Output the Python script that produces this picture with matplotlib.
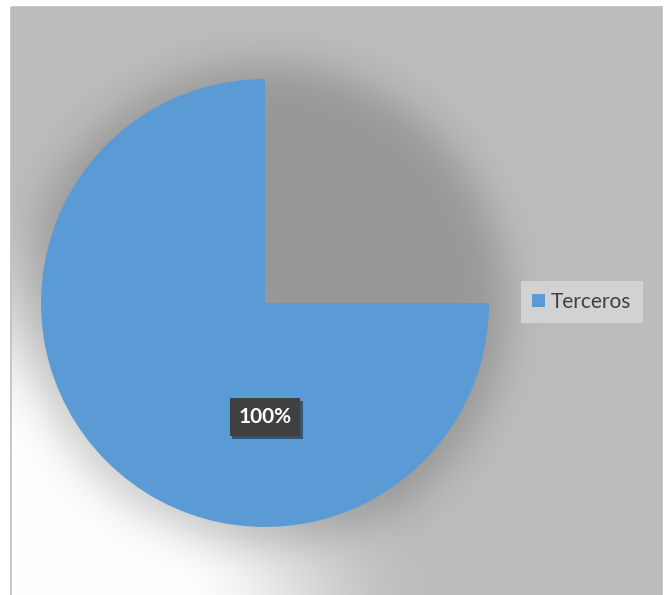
import numpy as np
import matplotlib.pyplot as plt
from matplotlib.patches import Rectangle
import matplotlib.patheffects as pe

# data
categories = ['', 'Terceros']
values = [1, 3]
slice_colors = ['none', '#5b9bd5']
data_label = '100%'
legend_label = 'Terceros'

W, H = 671, 595
fig = plt.figure(figsize=(W / 100, H / 100), dpi=100, facecolor='white')

# background: grey chart area with white radial glow from bottom-left and pie shadow
bg = fig.add_axes([0, 0, 1, 1])
bg.set_xlim(0, W)
bg.set_ylim(H, 0)
bg.axis('off')
yy, xx = np.mgrid[0:H, 0:W] + 0.5
d = np.hypot(xx - 10, yy - 600)
t = np.clip((d - 165) / (420 - 165), 0, 1)
t = t * t * (3 - 2 * t)
val = 255 + (189 - 255) * t
r = np.hypot(xx - 266, yy - 305)
shadow = 1 / (1 + np.exp((r - 240) / 13))
val = val * (1 - 0.2 * shadow)
img = np.stack([val, val, val], axis=-1) / 255.0
inside = (xx >= 11) & (xx <= 662) & (yy >= 7)
img[~inside] = 1.0
bg.imshow(img, extent=[0, W, H, 0], interpolation='bilinear', aspect='auto')
bg.add_patch(Rectangle((11, 7), 651, 600, fill=False, edgecolor='#bdbdbd', lw=1.2))

# pie
cx, cy, rad = 265, 303, 224
ax = fig.add_axes([(cx - rad) / W, (H - cy - rad) / H, 2 * rad / W, 2 * rad / H])
wedges, _ = ax.pie(values, colors=slice_colors, startangle=0, counterclock=True,
                   radius=1, wedgeprops=dict(linewidth=0))
ax.set_xlim(-1, 1)
ax.set_ylim(-1, 1)

ax.text(0, -0.51, data_label, ha='center', va='center', color='white',
        fontsize=15, fontweight='bold', family=['Lato', 'DejaVu Sans'],
        bbox=dict(boxstyle='square,pad=0.42', facecolor='#404040', edgecolor='none',
                  path_effects=[pe.withSimplePatchShadow(offset=(2, -2), alpha=0.5)]))

leg = fig.legend([wedges[1]], [legend_label], loc='center',
                 bbox_to_anchor=(582 / W, (H - 302) / H), frameon=True, fancybox=False,
                 facecolor='#d2d2d2', edgecolor='none', framealpha=1,
                 prop={'family': ['Lato', 'DejaVu Sans'], 'size': 15},
                 handlelength=0.6, handleheight=0.6, handletextpad=0.3,
                 borderpad=0.55, labelcolor='#404040')

fig.savefig('out.png', dpi=100, facecolor='white')
